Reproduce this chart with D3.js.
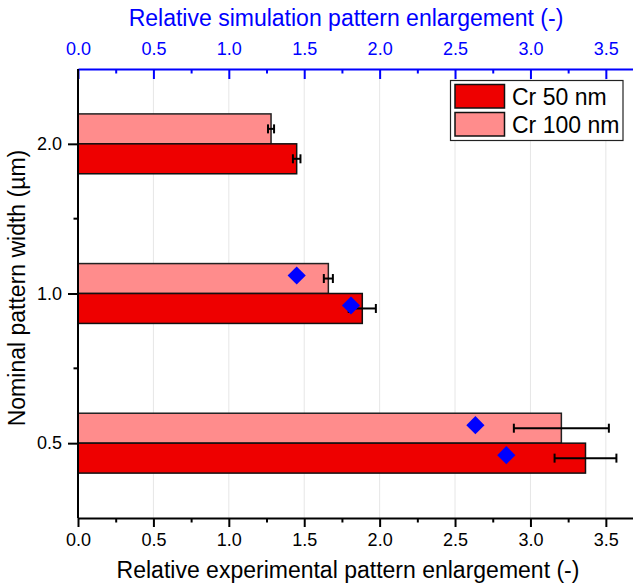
<!DOCTYPE html>
<html>
<head>
<meta charset="utf-8">
<script src="https://cdn.jsdelivr.net/npm/d3@7"></script>
<style>
  html, body { margin: 0; padding: 0; background: #fff; }
  svg { display: block; font-family: Arial, "Liberation Sans", sans-serif; }
</style>
</head>
<body>
<div id="chart"></div>
<script>
// Nominal pattern widths (µm), top to bottom
const widths = ["2.0", "1.0", "0.5"];
// Relative experimental enlargement, Cr 50 nm
const cr50 = [1.45, 1.885, 3.365];
const cr50Err = [0.025, 0.09, 0.205];
// Relative experimental enlargement, Cr 100 nm
const cr100 = [1.28, 1.66, 3.205];
const cr100Err = [0.02, 0.03, 0.315];
// Relative simulation enlargement (top axis); null where not simulated
const sim50 = [null, 1.81, 2.84];
const sim100 = [null, 1.45, 2.635];
// Axis ticks
const xTicks = [0, 0.5, 1, 1.5, 2, 2.5, 3, 3.5];
const xMinorTicks = [0.25, 0.75, 1.25, 1.75, 2.25, 2.75, 3.25];
const seriesNames = ["Cr 50 nm", "Cr 100 nm"];

const W = 633, H = 588;
const m = { left: 78, right: 0, top: 69, bottom: 70 };
const colors = { cr50: "#ee0000", cr100: "#ff8c8c", sim: "#0000ff" };

const svg = d3.select("#chart").append("svg").attr("width", W).attr("height", H);

const x = d3.scaleLinear().domain([0, 3.68]).range([m.left, W - m.right]);
const xTop = d3.scaleLinear().domain([0, 3.68]).range([m.left, W - m.right]);
const y = d3.scalePoint().domain(widths).range([m.top, H - m.bottom]).padding(0.5);
const barH = y.step() * 0.2;

// vertical grid lines
svg.append("g").selectAll("line").data(xTicks.slice(1)).join("line")
  .attr("x1", d => x(d)).attr("x2", d => x(d))
  .attr("y1", m.top).attr("y2", H - m.bottom)
  .attr("stroke", "#e6e6e6").attr("stroke-width", 1);

const rows = widths.map((w, i) => ({
  w, v50: cr50[i], e50: cr50Err[i], v100: cr100[i], e100: cr100Err[i],
  s50: sim50[i], s100: sim100[i]
}));

// bars: Cr 100 nm above the category line, Cr 50 nm below
const bars = svg.append("g");
bars.selectAll("rect.c100").data(rows).join("rect").attr("class", "c100")
  .attr("x", x(0)).attr("y", d => y(d.w) - barH)
  .attr("width", d => x(d.v100) - x(0)).attr("height", barH)
  .attr("fill", colors.cr100).attr("stroke", "#222").attr("stroke-width", 1.5);
bars.selectAll("rect.c50").data(rows).join("rect").attr("class", "c50")
  .attr("x", x(0)).attr("y", d => y(d.w))
  .attr("width", d => x(d.v50) - x(0)).attr("height", barH)
  .attr("fill", colors.cr50).attr("stroke", "#111").attr("stroke-width", 1.5);

// error bars
const errs = [];
rows.forEach(d => {
  errs.push({ v: d.v100, e: d.e100, yc: y(d.w) - barH / 2 });
  errs.push({ v: d.v50, e: d.e50, yc: y(d.w) + barH / 2 });
});
const cap = 4.5;
const eg = svg.append("g").attr("stroke", "#000").attr("stroke-width", 2);
errs.forEach(d => {
  eg.append("line").attr("x1", x(d.v - d.e)).attr("x2", x(d.v + d.e)).attr("y1", d.yc).attr("y2", d.yc);
  eg.append("line").attr("x1", x(d.v - d.e)).attr("x2", x(d.v - d.e)).attr("y1", d.yc - cap).attr("y2", d.yc + cap);
  eg.append("line").attr("x1", x(d.v + d.e)).attr("x2", x(d.v + d.e)).attr("y1", d.yc - cap).attr("y2", d.yc + cap);
});

// simulation markers (diamonds on the top axis scale)
const sims = [];
rows.forEach(d => {
  if (d.s100 != null) sims.push({ v: d.s100, yc: y(d.w) - barH / 2 - 3 });
  if (d.s50 != null) sims.push({ v: d.s50, yc: y(d.w) + barH / 2 - 3 });
});
const diamond = d3.symbol().type(d3.symbolSquare).size(165);
svg.append("g").selectAll("path").data(sims).join("path")
  .attr("d", diamond)
  .attr("transform", d => `translate(${xTop(d.v)},${d.yc}) rotate(45)`)
  .attr("fill", colors.sim);

// bottom axis
const fmt = d3.format(".1f");
const axisFont = "Arial, 'Liberation Sans', sans-serif";
const bottomAxis = svg.append("g").attr("transform", `translate(0,${H - m.bottom})`);
bottomAxis.call(d3.axisBottom(x).tickValues(xMinorTicks).tickSize(4.5).tickFormat(""))
  .call(g => g.select(".domain").remove());
bottomAxis.append("g").call(d3.axisBottom(x).tickValues(xTicks).tickSizeInner(9).tickSizeOuter(0).tickPadding(6).tickFormat(fmt));
bottomAxis.selectAll("line").attr("stroke", "#000").attr("stroke-width", 2);
bottomAxis.selectAll(".domain").attr("stroke", "#000").attr("stroke-width", 2);
bottomAxis.selectAll("text").attr("font-size", 18).attr("fill", "#000").attr("font-family", axisFont);

// top axis (ticks point into the plot)
const topAxis = svg.append("g").attr("transform", `translate(0,${m.top})`);
topAxis.call(d3.axisTop(xTop).tickValues(xMinorTicks).tickSize(-4.5).tickFormat(""))
  .call(g => g.select(".domain").remove());
topAxis.append("g").call(d3.axisTop(xTop).tickValues(xTicks).tickSizeInner(-10).tickSizeOuter(0).tickPadding(14).tickFormat(fmt));
topAxis.selectAll("line").attr("stroke", colors.sim).attr("stroke-width", 2);
topAxis.selectAll(".domain").attr("stroke", colors.sim).attr("stroke-width", 2);
topAxis.selectAll("text").attr("font-size", 18).attr("fill", colors.sim).attr("font-family", axisFont);

// left axis with minor ticks between categories
const leftAxis = svg.append("g").attr("transform", `translate(${m.left},0)`);
const mids = widths.slice(1).map((w, i) => (y(widths[i]) + y(w)) / 2);
leftAxis.selectAll("line.minor").data(mids).join("line").attr("class", "minor")
  .attr("x1", -4.5).attr("x2", 0).attr("y1", d => d).attr("y2", d => d)
  .attr("stroke", "#000").attr("stroke-width", 2);
leftAxis.append("g").call(d3.axisLeft(y).tickSizeInner(10).tickSizeOuter(0).tickPadding(6));
leftAxis.selectAll("line").attr("stroke", "#000").attr("stroke-width", 2);
leftAxis.selectAll(".domain").attr("stroke", "#000").attr("stroke-width", 2)
  .attr("d", `M0,${m.top}V${H - m.bottom}`);
leftAxis.selectAll("text").attr("font-size", 18).attr("fill", "#000").attr("font-family", axisFont);

// axis titles
svg.append("text").attr("x", 348).attr("y", 578).attr("text-anchor", "middle")
  .attr("font-size", 23).attr("fill", "#000").text("Relative experimental pattern enlargement (-)");
svg.append("text").attr("x", 346).attr("y", 26).attr("text-anchor", "middle")
  .attr("font-size", 23).attr("fill", colors.sim).text("Relative simulation pattern enlargement (-)");
svg.append("text").attr("transform", "translate(25,288) rotate(-90)").attr("text-anchor", "middle")
  .attr("font-size", 23).attr("fill", "#000").text("Nominal pattern width (µm)");

// legend
const lg = svg.append("g");
lg.append("rect").attr("x", 450.5).attr("y", 80.5).attr("width", 172.5).attr("height", 60)
  .attr("fill", "#fff").attr("stroke", "#222").attr("stroke-width", 1.2);
const legendColors = [colors.cr50, colors.cr100];
seriesNames.forEach((name, i) => {
  lg.append("rect").attr("x", 455).attr("y", 84.5 + i * 28).attr("width", 49.5).attr("height", 23.5)
    .attr("fill", legendColors[i]).attr("stroke", "#111").attr("stroke-width", 1.5);
  lg.append("text").attr("x", 512).attr("y", 104.5 + i * 28).attr("font-size", 23).attr("fill", "#000").text(name);
});
</script>
</body>
</html>
